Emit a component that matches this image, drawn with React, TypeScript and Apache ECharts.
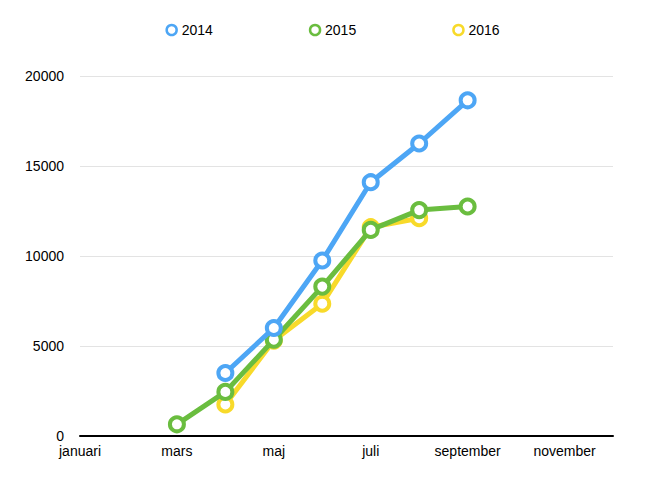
import React, { useEffect, useRef } from "react";
import * as echarts from "echarts";

const months = ["januari","februari","mars","april","maj","juni","juli","augusti","september","oktober","november","december"];
const s2014 = [null, null, null, 3500, 6000, 9750, 14100, 16250, 18650, null, null, null];
const s2015 = [null, null, 650, 2450, 5350, 8300, 11450, 12550, 12750, null, null, null];
const s2016 = [null, null, null, 1750, 5300, 7350, 11600, 12100, null, null, null, null];
const yTicks = [0, 5000, 10000, 15000, 20000];

const FONT = 'Helvetica, Arial, "Liberation Sans", sans-serif';

export default function App() {
  const ref = useRef<HTMLDivElement>(null);
  useEffect(() => {
    const chart = echarts.init(ref.current!, null, { renderer: "svg" });
    const mk = (name: string, data: (number | null)[], color: string, z: number) => ({
      name,
      type: "line",
      data,
      z,
      color,
      symbol: "circle",
      symbolSize: 14,
      lineStyle: { width: 5, color },
      itemStyle: { color: "#fff", borderColor: color, borderWidth: 4 },
      connectNulls: false,
    });
    chart.setOption({
      animation: false,
      textStyle: { fontFamily: FONT },
      legend: {
        top: 18,
        left: "center",
        itemGap: 96,
        itemWidth: 10,
        itemHeight: 10,
        icon: "circle",
        textStyle: { fontSize: 14, color: "#000", fontFamily: FONT },
        data: [
          { name: "2014", itemStyle: { color: "#fff", borderColor: "#4DA6F5", borderWidth: 2.5 } },
          { name: "2015", itemStyle: { color: "#fff", borderColor: "#6ABD3F", borderWidth: 2.5 } },
          { name: "2016", itemStyle: { color: "#fff", borderColor: "#F8DA2A", borderWidth: 2.5 } },
        ],
      },
      grid: { left: 80, right: 52, top: 76, bottom: 54, containLabel: false },
      xAxis: {
        type: "category",
        data: months,
        boundaryGap: false,
        axisLine: { lineStyle: { color: "#000", width: 2 } },
        axisTick: { show: false },
        axisLabel: { interval: 1, color: "#000", fontSize: 14, margin: 8, fontFamily: FONT },
      },
      yAxis: {
        type: "value",
        min: yTicks[0],
        max: yTicks[yTicks.length - 1],
        interval: 5000,
        axisLine: { show: false },
        axisTick: { show: false },
        axisLabel: { color: "#000", fontSize: 14, margin: 16, fontFamily: FONT, formatter: (v: number) => String(v) },
        splitLine: { lineStyle: { color: "#e3e3e3", width: 1 } },
      },
      series: [
        mk("2014", s2014, "#4DA6F5", 4),
        mk("2015", s2015, "#6ABD3F", 3),
        mk("2016", s2016, "#F8DA2A", 2),
      ],
    });
    return () => chart.dispose();
  }, []);
  return <div ref={ref} style={{ width: 665, height: 490, position: "absolute", left: 0, top: 0 }} />;
}
